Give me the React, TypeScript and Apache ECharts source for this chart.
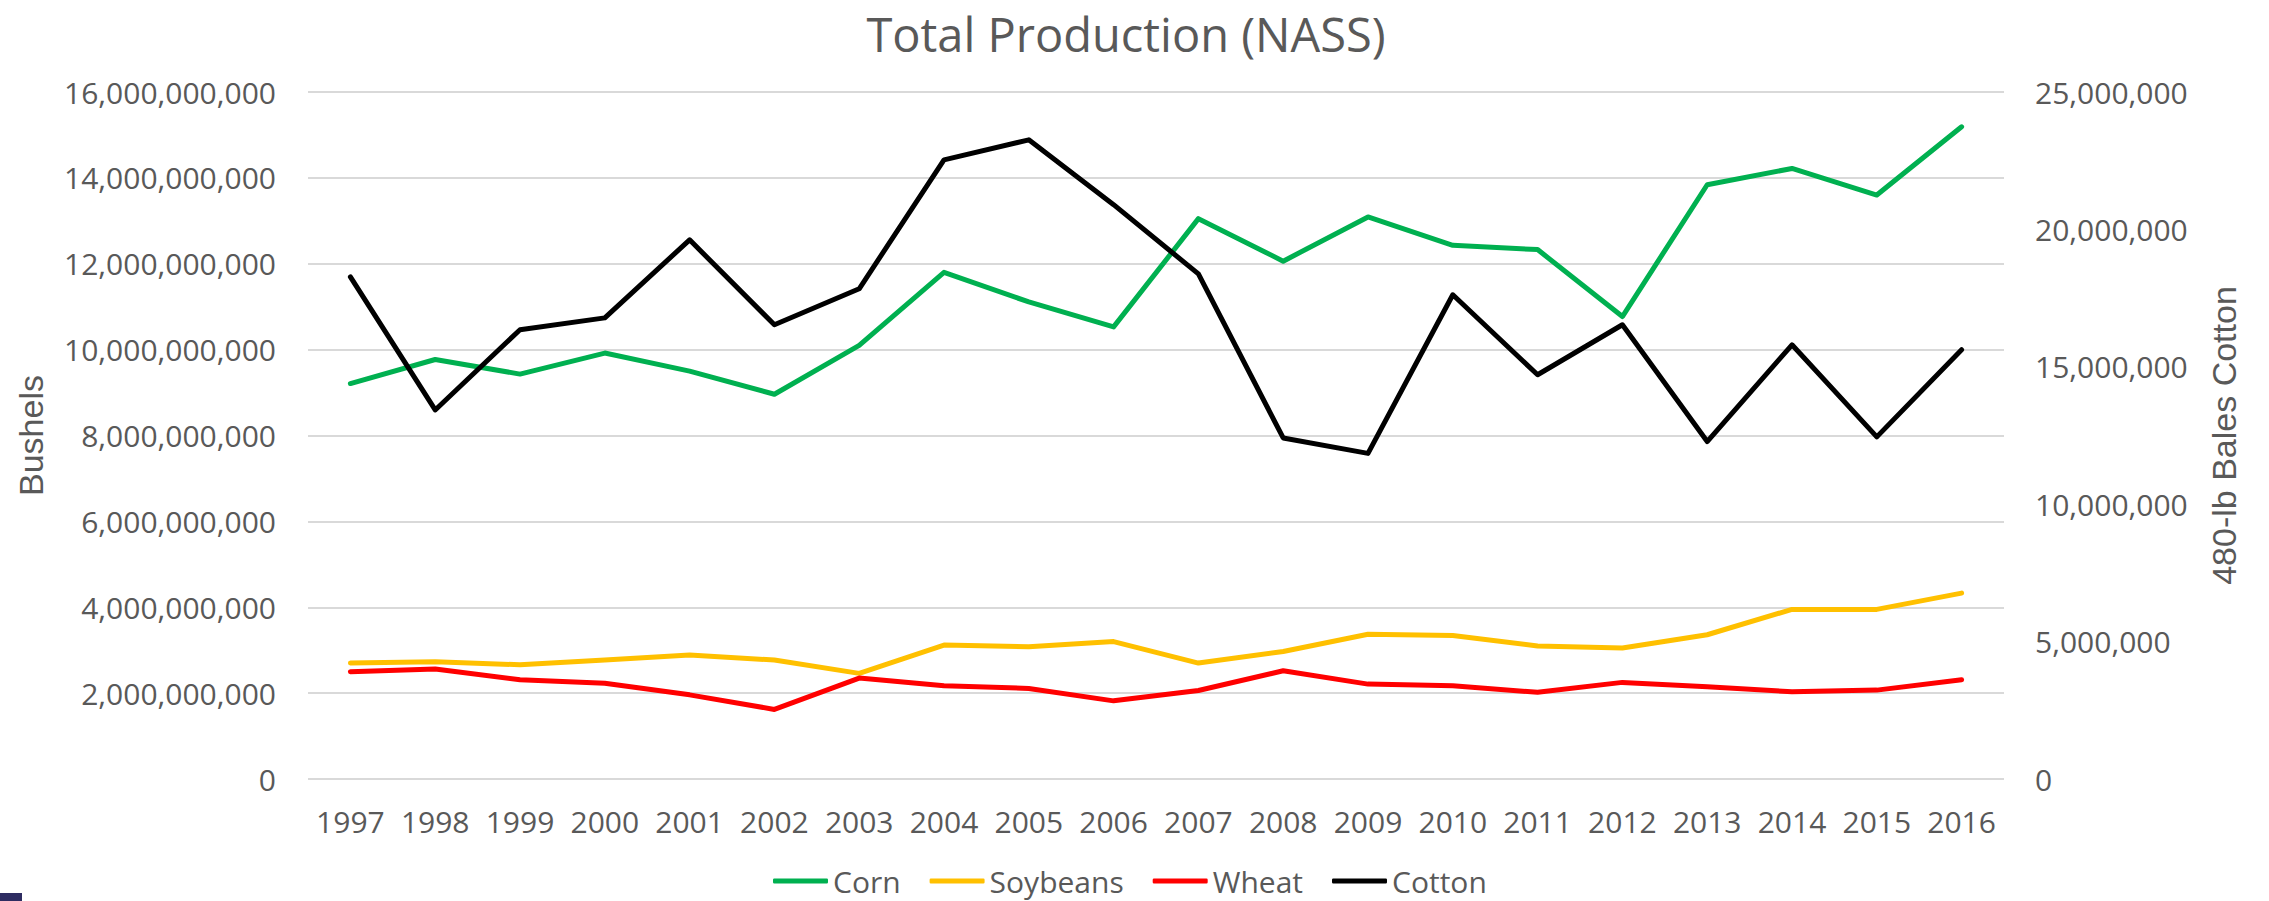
import React, { useEffect, useRef } from "react";
import * as echarts from "echarts";

const years = ["1997","1998","1999","2000","2001","2002","2003","2004","2005","2006","2007","2008","2009","2010","2011","2012","2013","2014","2015","2016"];

// Bushels (billions)
const cornB = [9.21, 9.77, 9.43, 9.92, 9.50, 8.96, 10.10, 11.80, 11.11, 10.53, 13.05, 12.06, 13.09, 12.43, 12.33, 10.77, 13.84, 14.22, 13.60, 15.19];
const soyB = [2.70, 2.73, 2.66, 2.77, 2.89, 2.77, 2.46, 3.12, 3.08, 3.20, 2.70, 2.97, 3.37, 3.34, 3.10, 3.05, 3.36, 3.95, 3.95, 4.33];
const wheatB = [2.50, 2.56, 2.31, 2.23, 1.96, 1.62, 2.35, 2.17, 2.11, 1.82, 2.06, 2.52, 2.21, 2.17, 2.02, 2.25, 2.15, 2.03, 2.07, 2.31];
// 480-lb bales (millions)
const cottonM = [18.27, 13.43, 16.35, 16.78, 19.62, 16.53, 17.84, 22.53, 23.26, 20.9, 18.38, 12.41, 11.85, 17.62, 14.71, 16.53, 12.28, 15.80, 12.45, 15.62];

const corn = cornB.map((v) => Math.round(v * 1e9));
const soybeans = soyB.map((v) => Math.round(v * 1e9));
const wheat = wheatB.map((v) => Math.round(v * 1e9));
const cotton = cottonM.map((v) => Math.round(v * 1e6));

const TITLE = "Total Production (NASS)";
const TEXT = "#595959";
const FONT = "Open Sans";
const fmt = (v: number) => Math.round(v).toLocaleString("en-US");

export default function App() {
  const ref = useRef<HTMLDivElement>(null);
  useEffect(() => {
    if (!ref.current) return;
    const chart = echarts.init(ref.current, undefined, { renderer: "svg" });
    const line = (name: string, data: number[], color: string, yAxisIndex = 0) => ({
      name,
      type: "line",
      data,
      yAxisIndex,
      symbol: "none",
      color,
      lineStyle: { width: 5, color, cap: "round", join: "round" },
    });
    chart.setOption({
      animation: false,
      backgroundColor: "#ffffff",
      textStyle: { fontFamily: FONT },
      legend: {
        left: 773,
        top: 865,
        padding: 0,
        itemGap: 29,
        itemWidth: 55,
        itemHeight: 5,
        icon: "roundRect",
        textStyle: { fontFamily: FONT, fontSize: 30, lineHeight: 32, color: TEXT },
        data: ["Corn", "Soybeans", "Wheat", "Cotton"],
      },
      grid: { left: 308, right: 265, top: 92, bottom: 122 },
      xAxis: {
        type: "category",
        data: years,
        boundaryGap: true,
        axisLine: { show: false },
        axisTick: { show: false },
        axisLabel: { fontFamily: FONT, fontSize: 30, color: TEXT, margin: 27, interval: 0 },
      },
      yAxis: [
        {
          type: "value",
          min: 0,
          max: 16e9,
          interval: 2e9,
          name: "Bushels",
          nameLocation: "middle",
          nameRotate: 90,
          nameGap: 260,
          nameTextStyle: { fontFamily: "Liberation Sans", fontSize: 34, color: TEXT },
          axisLine: { show: false },
          axisTick: { show: false },
          splitLine: { lineStyle: { color: "#D9D9D9", width: 2 } },
          axisLabel: { fontFamily: FONT, fontSize: 30, color: TEXT, margin: 32, formatter: fmt },
        },
        {
          type: "value",
          min: 0,
          max: 25e6,
          interval: 5e6,
          name: "480-lb Bales Cotton",
          nameLocation: "middle",
          nameRotate: 90,
          nameGap: 203,
          nameTextStyle: { fontFamily: "Liberation Sans", fontSize: 34, color: TEXT },
          axisLine: { show: false },
          axisTick: { show: false },
          splitLine: { show: false },
          axisLabel: { fontFamily: FONT, fontSize: 30, color: TEXT, margin: 31, formatter: fmt },
        },
      ],
      series: [
        line("Corn", corn, "#00B050"),
        line("Soybeans", soybeans, "#FFC000"),
        line("Wheat", wheat, "#FF0000"),
        line("Cotton", cotton, "#000000", 1),
      ],
      graphic: [
        {
          type: "text",
          x: 1126,
          y: 34,
          style: {
            text: TITLE,
            fontFamily: FONT,
            fontSize: 47,
            fill: TEXT,
            textAlign: "center",
            textVerticalAlign: "middle",
          },
        },
        { type: "rect", left: 0, top: 893, shape: { width: 22, height: 8 }, style: { fill: "#2E2C61" } },
      ],
    });
    return () => chart.dispose();
  }, []);
  return (
    <div
      ref={ref}
      style={{ position: "fixed", left: 0, top: 0, width: 2269, height: 901, background: "#fff" }}
    />
  );
}
